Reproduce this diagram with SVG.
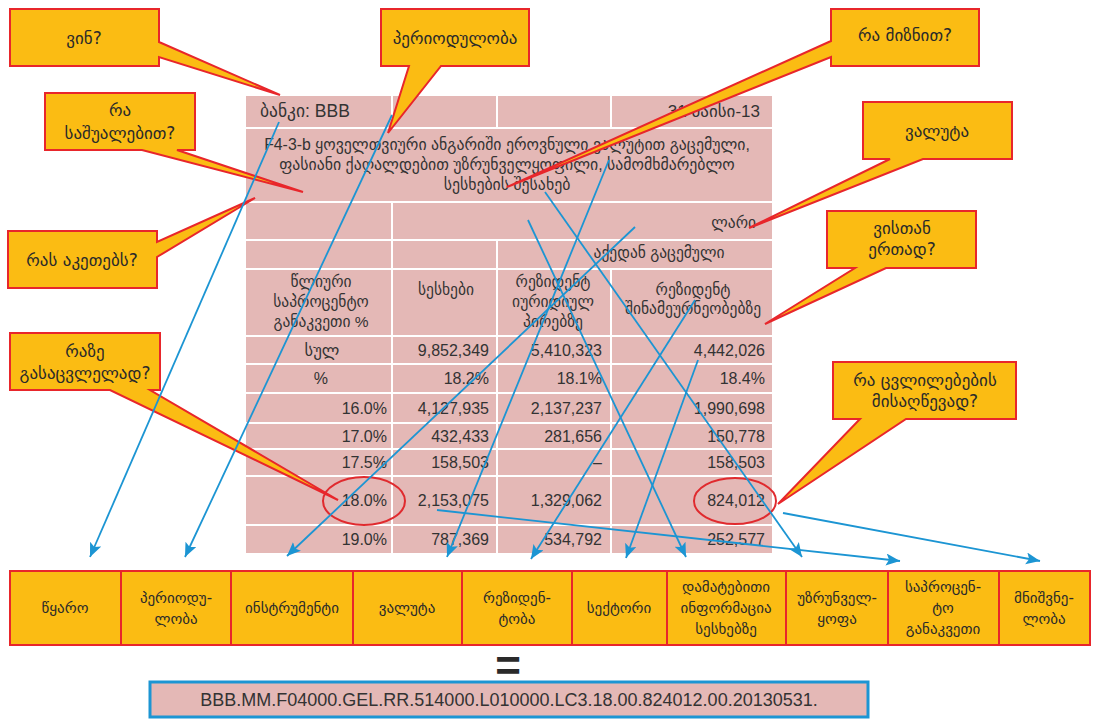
<svg xmlns="http://www.w3.org/2000/svg" width="1096" height="722" viewBox="0 0 1096 722">
<defs>
<style>
.cell{fill:#E4B8B6}
.t{font-family:'Liberation Sans','DejaVu Sans',sans-serif;fill:#333;font-size:15.5px}
.n{font-family:'Liberation Sans',sans-serif;fill:#333;font-size:16px;text-anchor:end}
.c{text-anchor:middle}
.e{text-anchor:end}
.co{fill:#FBBC13;stroke:#E8262B;stroke-width:2;stroke-linejoin:miter}
.ct{font-family:'DejaVu Sans',sans-serif;fill:#2a2a2a;font-size:17px;text-anchor:middle}
.bx{fill:#FBBC13;stroke:#E8262B;stroke-width:2}
.bt{font-family:'DejaVu Sans',sans-serif;fill:#2a2a2a;font-size:15px;text-anchor:middle}
.ln{stroke:#1C95D3;stroke-width:1.8;fill:none;marker-end:url(#ah)}
.ell{fill:none;stroke:#E02A2E;stroke-width:2}
</style>
<marker id="ah" markerUnits="userSpaceOnUse" markerWidth="16" markerHeight="14" refX="14" refY="6" orient="auto">
<path d="M0,0 L14,6 L0,12 L3,6 z" fill="#1C95D3"/>
</marker>
</defs>
<rect width="1096" height="722" fill="#fff"/>

<g id="table">
<rect class="cell" x="246" y="96" width="145" height="31"/>
<rect class="cell" x="393" y="96" width="103" height="31"/>
<rect class="cell" x="498" y="96" width="112" height="31"/>
<rect class="cell" x="612" y="96" width="160" height="31"/>
<rect class="cell" x="246" y="129" width="526" height="72"/>
<rect class="cell" x="246" y="203" width="145" height="36"/>
<rect class="cell" x="393" y="203" width="379" height="36"/>
<rect class="cell" x="246" y="241" width="145" height="27"/>
<rect class="cell" x="393" y="241" width="103" height="27"/>
<rect class="cell" x="498" y="241" width="274" height="27"/>
<g id="rows">
<rect class="cell" x="246" y="270" width="145" height="65"/><rect class="cell" x="393" y="270" width="103" height="65"/><rect class="cell" x="498" y="270" width="112" height="65"/><rect class="cell" x="612" y="270" width="160" height="65"/>
<rect class="cell" x="246" y="337" width="145" height="26"/><rect class="cell" x="393" y="337" width="103" height="26"/><rect class="cell" x="498" y="337" width="112" height="26"/><rect class="cell" x="612" y="337" width="160" height="26"/>
<rect class="cell" x="246" y="365" width="145" height="27"/><rect class="cell" x="393" y="365" width="103" height="27"/><rect class="cell" x="498" y="365" width="112" height="27"/><rect class="cell" x="612" y="365" width="160" height="27"/>
<rect class="cell" x="246" y="394" width="145" height="28"/><rect class="cell" x="393" y="394" width="103" height="28"/><rect class="cell" x="498" y="394" width="112" height="28"/><rect class="cell" x="612" y="394" width="160" height="28"/>
<rect class="cell" x="246" y="424" width="145" height="24"/><rect class="cell" x="393" y="424" width="103" height="24"/><rect class="cell" x="498" y="424" width="112" height="24"/><rect class="cell" x="612" y="424" width="160" height="24"/>
<rect class="cell" x="246" y="450" width="145" height="25"/><rect class="cell" x="393" y="450" width="103" height="25"/><rect class="cell" x="498" y="450" width="112" height="25"/><rect class="cell" x="612" y="450" width="160" height="25"/>
<rect class="cell" x="246" y="477" width="145" height="47"/><rect class="cell" x="393" y="477" width="103" height="47"/><rect class="cell" x="498" y="477" width="112" height="47"/><rect class="cell" x="612" y="477" width="160" height="47"/>
<rect class="cell" x="246" y="526" width="145" height="27"/><rect class="cell" x="393" y="526" width="103" height="27"/><rect class="cell" x="498" y="526" width="112" height="27"/><rect class="cell" x="612" y="526" width="160" height="27"/>
</g>
<text class="t" x="260" y="117" style="font-size:17.5px">ბანკი: BBB</text>
<text class="t e" x="760" y="117" style="font-size:17px">31 მაისი-13</text>
<text class="t c" x="507" y="150" style="font-size:15.8px">F4-3-b ყოველთვიური ანგარიში ეროვნული ვალუტით გაცემული,</text>
<text class="t c" x="507" y="170" style="font-size:15.8px">ფასიანი ქაღალდებით უზრუნველყოფილი, სამომხმარებლო</text>
<text class="t c" x="507" y="190" style="font-size:15.8px">სესხების შესახებ</text>
<text class="t e" x="756" y="228">ლარი</text>
<text class="t c" x="659" y="258">აქედან გაცემული</text>
<text class="t c" x="321" y="287">წლიური</text>
<text class="t c" x="321" y="307">საპროცენტო</text>
<text class="t c" x="321" y="327">განაკვეთი %</text>
<text class="t c" x="446" y="295">სესხები</text>
<text class="t c" x="553" y="287">რეზიდენტ</text>
<text class="t c" x="553" y="307">იურიდიულ</text>
<text class="t c" x="553" y="327">პირებზე</text>
<text class="t c" x="693" y="295">რეზიდენტ</text>
<text class="t c" x="693" y="314">შინამეურნეობებზე</text>

<text class="t c" x="322" y="356" style="font-size:16.5px">სულ</text>
<text class="n" x="489" y="356">9,852,349</text><text class="n" x="602" y="356">5,410,323</text><text class="n" x="765" y="356">4,442,026</text>
<text class="n" x="328" y="384">%</text>
<text class="n" x="489" y="384">18.2%</text><text class="n" x="602" y="384">18.1%</text><text class="n" x="765" y="384">18.4%</text>
<text class="n" x="387" y="414">16.0%</text><text class="n" x="489" y="414">4,127,935</text><text class="n" x="602" y="414">2,137,237</text><text class="n" x="765" y="414">1,990,698</text>
<text class="n" x="387" y="442">17.0%</text><text class="n" x="489" y="442">432,433</text><text class="n" x="602" y="442">281,656</text><text class="n" x="765" y="442">150,778</text>
<text class="n" x="387" y="468">17.5%</text><text class="n" x="489" y="468">158,503</text><text class="n" x="602" y="468">–</text><text class="n" x="765" y="468">158,503</text>
<text class="n" x="387" y="506">18.0%</text><text class="n" x="489" y="506">2,153,075</text><text class="n" x="602" y="506">1,329,062</text><text class="n" x="765" y="506">824,012</text>
<text class="n" x="387" y="545">19.0%</text><text class="n" x="489" y="545">787,369</text><text class="n" x="602" y="545">534,792</text><text class="n" x="765" y="545">252,577</text>
<ellipse class="ell" cx="364" cy="501" rx="41" ry="24"/>
<ellipse class="ell" cx="735" cy="501" rx="41" ry="23"/>
</g>

<g id="callout-vin">
<path class="co" d="M10,9 H159 V42 L280,95 L159,57 V66 H10 Z"/>
<text class="ct" x="84" y="44">ვინ?</text>
</g>
<g id="callout-sashualebit">
<path class="co" d="M45,93 H195 V150 H177 L303,192 L142,150 H45 Z"/>
<text class="ct" x="120" y="116">რა</text>
<text class="ct" x="120" y="139">საშუალებით?</text>
</g>
<g id="callout-periodi">
<path class="co" d="M381,9 H529 V66 H441 L388,133 L409,66 H381 Z"/>
<text class="ct" x="455" y="44">პერიოდულობა</text>
</g>
<g id="callout-mizani">
<path class="co" d="M831,9 H979 V66 H831 V57 L507,187 L831,41 Z"/>
<text class="ct" x="905" y="41">რა მიზნით?</text>
</g>
<g id="callout-valuta">
<path class="co" d="M863,102 H1012 V159 H923 L749,228 L890,159 H863 Z"/>
<text class="ct" x="937" y="137">ვალუტა</text>
</g>
<g id="callout-aketebs">
<path class="co" d="M8,231 H157 V242 L255,198 L157,257 V288 H8 Z"/>
<text class="ct" x="82" y="266">რას აკეთებს?</text>
</g>
<g id="callout-gasacvleli">
<path class="co" d="M10,333 H160 V390 H150 L338,500 L110,390 H10 Z"/>
<text class="ct" x="85" y="357">რაზე</text>
<text class="ct" x="85" y="379">გასაცვლელად?</text>
</g>
<g id="callout-vistan">
<path class="co" d="M827,211 H976 V268 H886 L765,324 L855,268 H827 Z"/>
<text class="ct" x="902" y="234">ვისთან</text>
<text class="ct" x="902" y="255">ერთად?</text>
</g>
<g id="callout-cvlileba">
<path class="co" d="M833,362 H1016 V419 H906 L778,504 L860,419 H833 Z"/>
<text class="ct" x="925" y="386">რა ცვლილებების</text>
<text class="ct" x="925" y="407">მისაღწევად?</text>
</g>

<g id="connectors">
<line class="ln" x1="279" y1="122" x2="90" y2="557"/>
<line class="ln" x1="392" y1="115" x2="185" y2="557"/>
<line class="ln" x1="635" y1="227" x2="287" y2="556"/>
<line class="ln" x1="609" y1="160" x2="447" y2="557"/>
<line class="ln" x1="695" y1="300" x2="531" y2="559"/>
<line class="ln" x1="698" y1="360" x2="626" y2="558"/>
<line class="ln" x1="528" y1="220" x2="686" y2="557"/>
<line class="ln" x1="545" y1="192" x2="802" y2="557"/>
<line class="ln" x1="437" y1="510" x2="900" y2="561"/>
<line class="ln" x1="783" y1="513" x2="1040" y2="561"/>
</g>

<g id="b-tskaro"><rect class="bx" x="10" y="571" width="111" height="74"/><text class="bt" x="65" y="613">წყარო</text></g>
<g id="b-periodi"><rect class="bx" x="121" y="571" width="110" height="74"/><text class="bt" x="176" y="603">პერიოდუ-</text><text class="bt" x="176" y="624">ლობა</text></g>
<g id="b-instr"><rect class="bx" x="231" y="571" width="122" height="74"/><text class="bt" x="292" y="613">ინსტრუმენტი</text></g>
<g id="b-valuta"><rect class="bx" x="353" y="571" width="109" height="74"/><text class="bt" x="407" y="613">ვალუტა</text></g>
<g id="b-rezid"><rect class="bx" x="462" y="571" width="110" height="74"/><text class="bt" x="517" y="603">რეზიდენ-</text><text class="bt" x="517" y="624">ტობა</text></g>
<g id="b-sektori"><rect class="bx" x="572" y="571" width="95" height="74"/><text class="bt" x="619" y="613">სექტორი</text></g>
<g id="b-damat"><rect class="bx" x="667" y="571" width="119" height="74"/><text class="bt" x="726" y="592">დამატებითი</text><text class="bt" x="726" y="613">ინფორმაცია</text><text class="bt" x="726" y="634">სესხებზე</text></g>
<g id="b-uzrun"><rect class="bx" x="786" y="571" width="102" height="74"/><text class="bt" x="837" y="603">უზრუნველ-</text><text class="bt" x="837" y="624">ყოფა</text></g>
<g id="b-sapr"><rect class="bx" x="888" y="571" width="111" height="74"/><text class="bt" x="943" y="592">საპროცენ-</text><text class="bt" x="943" y="613">ტო</text><text class="bt" x="943" y="634">განაკვეთი</text></g>
<g id="b-mnishv"><rect class="bx" x="999" y="571" width="91" height="74"/><text class="bt" x="1044" y="603">მნიშვნე-</text><text class="bt" x="1044" y="624">ლობა</text></g>

<text x="508" y="681" font-family="'Liberation Sans',sans-serif" font-weight="bold" font-size="44" fill="#2a2a2a" text-anchor="middle">=</text>
<g id="code">
<rect x="150" y="682" width="718" height="35" fill="#E4B8B6" stroke="#1C95D3" stroke-width="3"/>
<text x="509" y="706" font-family="'Liberation Sans',sans-serif" font-size="18" fill="#333" text-anchor="middle">BBB.MM.F04000.GEL.RR.514000.L010000.LC3.18.00.824012.00.20130531.</text>
</g>
</svg>
